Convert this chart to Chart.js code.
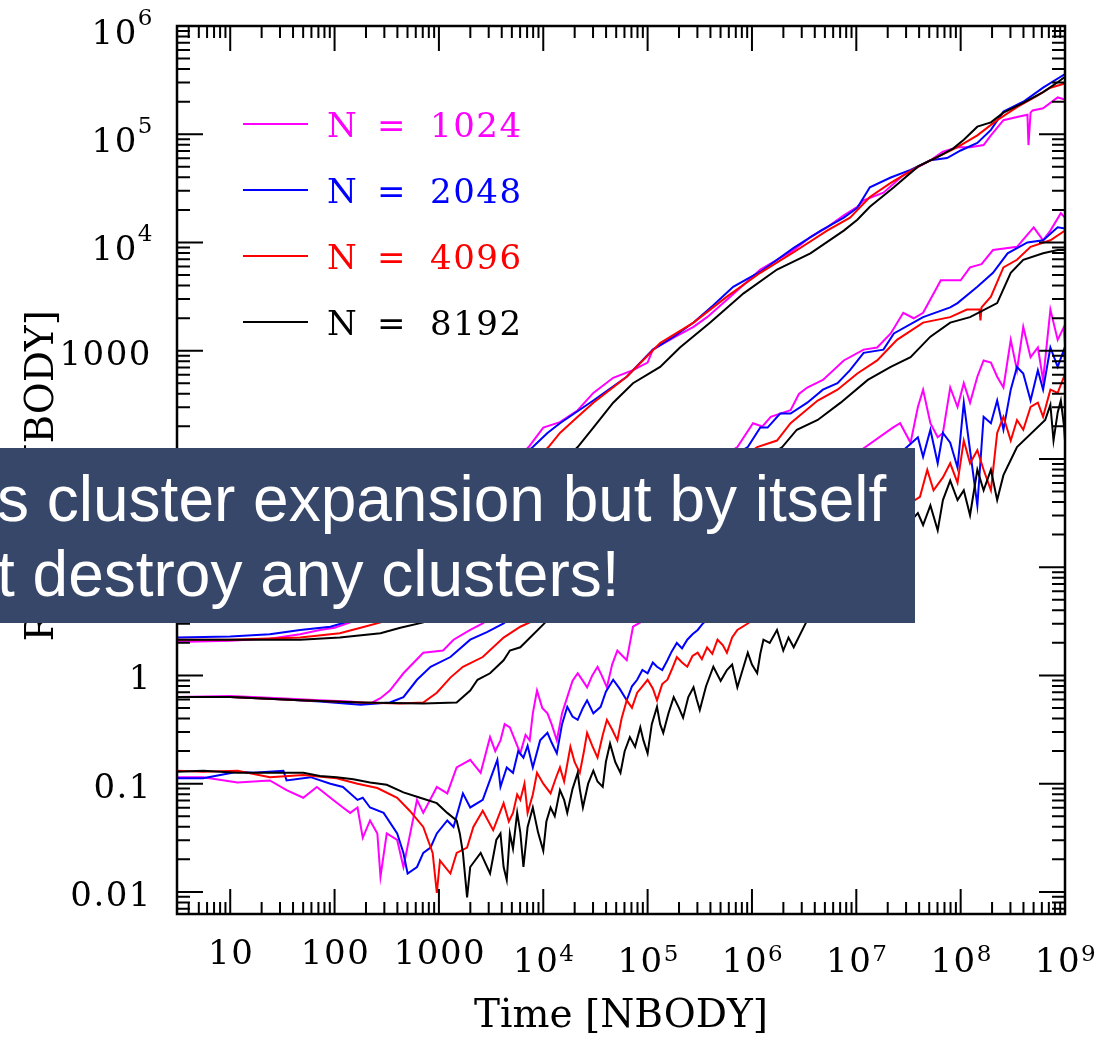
<!DOCTYPE html>
<html>
<head>
<meta charset="utf-8">
<title>Radius vs time</title>
<script src="https://cdn.jsdelivr.net/npm/chart.js@4.4.1/dist/chart.umd.min.js"></script>
<style>
  html, body { margin: 0; padding: 0; background: #fff; }
  #wrap { position: relative; width: 1107px; height: 1037px; overflow: hidden; }
  #note {
    position: absolute; left: 0; top: 448px; width: 915px; height: 175px;
    background: #37476a; color: #fff; overflow: hidden; white-space: nowrap;
    font-family: "Liberation Sans", Arial, sans-serif; font-size: 64px; line-height: 75px;
  }
  #note div { position: relative; left: -3px; }
</style>
</head>
<body>
<div id="wrap">
  <canvas id="chart" width="1107" height="1037"></canvas>
  <div id="note">
    <div style="padding-top:14px">s cluster expansion but by itself</div>
    <div>t destroy any clusters!</div>
  </div>
</div>
<script>
// runs and their colours
var runs = ['1024', '2048', '4096', '8192'];
var runColors = ['#ff00ff', '#0000ff', '#ff0000', '#000000'];

// axis ranges and tick labels
var xRange = [3.09, 1e9];
var yRange = [0.00625, 1e6];
var xTicks = [1e1, 1e2, 1e3, 1e4, 1e5, 1e6, 1e7, 1e8, 1e9];
var xTickLabels = ['10', '100', '1000', '10^4', '10^5', '10^6', '10^7', '10^8', '10^9'];
var yTicks = [1e-2, 1e-1, 1, 1e1, 1e2, 1e3, 1e4, 1e5, 1e6];
var yTickLabels = ['0.01', '0.1', '1', '10', '100', '1000', '10^4', '10^5', '10^6'];

// [log10(time), log10(radius)]
var upper1024 = [[0.49,0.31],[1.0,0.32],[1.38,0.34],[1.67,0.38],[1.86,0.42],[2.0,0.44],[2.15,0.49],[2.5,0.82],[3.0,1.3],[3.5,1.76],[3.86,2.11],[4.0,2.29],[4.16,2.34],[4.33,2.45],[4.48,2.61],[4.67,2.75],[4.86,2.82],[5.0,2.89],[5.05,3.01],[5.25,3.12],[5.44,3.22],[5.57,3.31],[5.76,3.47],[5.92,3.61],[6.08,3.75],[6.24,3.84],[6.4,3.93],[6.56,4.05],[6.72,4.14],[6.88,4.25],[7.01,4.33],[7.07,4.39],[7.26,4.46],[7.45,4.62],[7.71,4.76],[7.83,4.84],[7.97,4.88],[8.09,4.88],[8.22,4.9],[8.29,4.99],[8.41,5.13],[8.54,5.16],[8.64,5.18],[8.65,4.9],[8.67,5.2],[8.69,5.22],[8.79,5.24],[8.93,5.34],[9.0,5.32]];
var upper2048 = [[0.49,0.35],[1.0,0.36],[1.38,0.38],[1.67,0.42],[1.96,0.45],[2.1,0.49],[2.5,0.86],[3.0,1.35],[3.5,1.8],[3.9,2.11],[4.04,2.24],[4.16,2.33],[4.48,2.54],[4.8,2.76],[5.05,3.01],[5.25,3.13],[5.44,3.26],[5.63,3.42],[5.82,3.59],[6.08,3.73],[6.4,3.95],[6.66,4.11],[6.88,4.23],[7.01,4.32],[7.13,4.51],[7.33,4.6],[7.52,4.67],[7.71,4.76],[7.87,4.78],[8.0,4.85],[8.16,4.92],[8.29,5.04],[8.41,5.21],[8.6,5.3],[8.79,5.43],[8.99,5.55],[9.0,5.55]];
var upper4096 = [[0.49,0.33],[1.0,0.33],[1.67,0.35],[2.05,0.39],[2.25,0.44],[2.44,0.49],[3.0,1.08],[3.5,1.6],[4.05,2.11],[4.16,2.24],[4.33,2.39],[4.48,2.52],[4.8,2.76],[5.12,3.07],[5.44,3.26],[5.76,3.5],[6.08,3.72],[6.4,3.91],[6.72,4.11],[6.94,4.23],[7.13,4.42],[7.33,4.55],[7.59,4.7],[7.78,4.79],[7.97,4.88],[8.16,4.99],[8.35,5.13],[8.54,5.25],[8.74,5.36],[8.86,5.43],[9.0,5.47]];
var upper8192 = [[0.49,0.33],[1.0,0.33],[1.67,0.33],[2.05,0.35],[2.44,0.39],[2.63,0.44],[2.85,0.49],[3.3,1.0],[3.7,1.5],[4.0,1.8],[4.33,2.11],[4.48,2.29],[4.67,2.52],[4.86,2.7],[5.12,2.85],[5.31,3.03],[5.6,3.26],[5.92,3.53],[6.24,3.75],[6.56,3.9],[6.88,4.11],[7.01,4.21],[7.13,4.33],[7.36,4.51],[7.59,4.7],[7.78,4.79],[7.93,4.87],[8.03,4.95],[8.16,5.07],[8.29,5.11],[8.41,5.2],[8.6,5.29],[8.79,5.39],[8.93,5.48],[9.0,5.53]];

var middle1024 = [[0.49,-0.2],[1.0,-0.19],[1.48,-0.21],[1.86,-0.23],[2.15,-0.24],[2.34,-0.26],[2.44,-0.21],[2.53,-0.14],[2.66,0.02],[2.85,0.21],[3.04,0.23],[3.14,0.33],[3.3,0.42],[3.42,0.48],[4.0,0.9],[4.6,1.35],[5.2,1.75],[5.6,1.95],[5.86,2.11],[6.01,2.33],[6.1,2.3],[6.18,2.39],[6.37,2.45],[6.45,2.6],[6.53,2.66],[6.68,2.73],[6.88,2.91],[7.07,3.01],[7.2,3.03],[7.33,3.16],[7.45,3.35],[7.55,3.3],[7.64,3.35],[7.81,3.65],[8.0,3.65],[8.09,3.77],[8.2,3.8],[8.31,3.93],[8.54,3.96],[8.7,4.14],[8.79,4.02],[8.86,4.11],[8.96,4.27],[9.0,4.23]];
var middle2048 = [[0.49,-0.2],[1.0,-0.2],[1.48,-0.22],[1.86,-0.24],[2.25,-0.27],[2.53,-0.25],[2.66,-0.2],[2.79,-0.04],[2.92,0.08],[3.11,0.17],[3.3,0.33],[3.46,0.4],[3.62,0.48],[4.2,0.95],[4.8,1.4],[5.4,1.8],[5.96,2.11],[6.08,2.29],[6.15,2.29],[6.27,2.42],[6.37,2.42],[6.53,2.52],[6.68,2.64],[6.82,2.7],[6.94,2.82],[7.07,2.98],[7.26,3.01],[7.36,3.16],[7.64,3.31],[7.9,3.4],[7.97,3.44],[8.16,3.59],[8.31,3.72],[8.45,3.9],[8.64,4.0],[8.79,4.02],[8.93,4.14],[9.0,4.13]];
var middle4096 = [[0.49,-0.2],[1.0,-0.2],[1.67,-0.23],[2.25,-0.25],[2.63,-0.26],[2.85,-0.25],[2.98,-0.16],[3.11,-0.02],[3.23,0.08],[3.42,0.17],[3.62,0.35],[3.78,0.45],[3.87,0.49],[4.4,0.95],[5.0,1.4],[5.6,1.8],[6.05,2.11],[6.24,2.17],[6.37,2.33],[6.63,2.54],[6.82,2.64],[7.01,2.79],[7.2,2.91],[7.39,3.1],[7.64,3.26],[7.9,3.31],[8.06,3.38],[8.18,3.38],[8.19,3.28],[8.2,3.4],[8.29,3.5],[8.41,3.77],[8.54,3.84],[8.67,3.96],[8.86,4.02],[9.0,4.11]];
var middle8192 = [[0.49,-0.2],[1.0,-0.2],[1.67,-0.23],[2.25,-0.25],[2.85,-0.26],[3.17,-0.25],[3.3,-0.14],[3.37,-0.04],[3.49,0.02],[3.62,0.14],[3.68,0.23],[3.78,0.26],[4.02,0.49],[4.6,0.95],[5.2,1.4],[5.8,1.8],[6.29,2.11],[6.43,2.27],[6.63,2.36],[6.85,2.52],[7.11,2.73],[7.33,2.85],[7.52,2.94],[7.71,3.13],[7.9,3.26],[8.09,3.31],[8.35,3.44],[8.48,3.72],[8.6,3.84],[8.79,3.9],[8.93,3.93],[9.0,3.93]];

var lower1024 = [[0.49,-0.94],[0.74,-0.94],[1.07,-0.99],[1.38,-0.97],[1.54,-1.06],[1.7,-1.13],[1.83,-1.03],[1.96,-1.13],[2.08,-1.22],[2.15,-1.27],[2.22,-1.22],[2.27,-1.5],[2.34,-1.34],[2.41,-1.46],[2.44,-1.86],[2.5,-1.46],[2.6,-1.52],[2.66,-1.77],[2.79,-1.15],[2.85,-1.27],[2.98,-1.03],[3.08,-1.09],[3.17,-0.85],[3.3,-0.78],[3.4,-0.9],[3.49,-0.57],[3.54,-0.7],[3.59,-0.6],[3.63,-0.45],[3.68,-0.48],[3.73,-0.6],[3.78,-0.72],[3.83,-0.55],[3.87,-0.6],[3.9,-0.35],[3.94,-0.14],[3.99,-0.3],[4.04,-0.35],[4.08,-0.45],[4.13,-0.6],[4.18,-0.35],[4.23,-0.2],[4.28,-0.05],[4.33,0.02],[4.38,-0.05],[4.42,-0.11],[4.47,0.0],[4.52,0.08],[4.56,0.0],[4.61,-0.11],[4.66,0.1],[4.71,0.23],[4.76,0.18],[4.8,0.14],[4.86,0.45],[4.93,0.49],[5.2,0.75],[5.5,0.95],[5.8,1.2],[6.1,1.4],[6.4,1.65],[6.7,1.8],[7.0,2.05],[7.35,2.29],[7.42,2.33],[7.52,2.15],[7.59,2.48],[7.64,2.64],[7.71,2.33],[7.78,2.2],[7.83,2.24],[7.9,2.66],[7.97,2.48],[8.03,2.7],[8.09,2.52],[8.16,2.76],[8.22,2.91],[8.29,2.89],[8.35,2.76],[8.41,2.66],[8.48,3.1],[8.54,2.82],[8.6,3.22],[8.67,2.94],[8.74,3.03],[8.79,2.73],[8.86,3.38],[8.93,3.1],[8.99,3.22],[9.0,3.05]];
var lower2048 = [[0.49,-0.95],[0.74,-0.95],[1.07,-0.89],[1.22,-0.9],[1.51,-0.88],[1.54,-0.97],[1.77,-0.94],[1.96,-1.0],[2.08,-1.03],[2.22,-1.15],[2.27,-1.13],[2.34,-1.22],[2.47,-1.27],[2.6,-1.46],[2.66,-1.64],[2.7,-1.83],[2.79,-1.77],[2.85,-1.64],[2.92,-1.59],[2.98,-1.46],[3.08,-1.34],[3.14,-1.4],[3.23,-1.09],[3.3,-1.22],[3.42,-1.15],[3.56,-0.78],[3.59,-1.03],[3.65,-0.85],[3.71,-0.9],[3.76,-0.7],[3.81,-0.76],[3.85,-0.65],[3.9,-0.85],[3.97,-0.6],[4.04,-0.53],[4.08,-0.62],[4.13,-0.72],[4.18,-0.45],[4.23,-0.29],[4.28,-0.38],[4.33,-0.41],[4.38,-0.3],[4.42,-0.23],[4.48,-0.35],[4.55,-0.29],[4.6,-0.15],[4.67,-0.04],[4.73,-0.12],[4.8,-0.23],[4.85,-0.1],[4.9,-0.04],[4.95,0.05],[5.0,0.02],[5.05,0.12],[5.09,0.08],[5.14,0.05],[5.19,0.14],[5.23,0.22],[5.28,0.3],[5.33,0.25],[5.38,0.33],[5.43,0.38],[5.48,0.42],[5.53,0.48],[5.8,0.72],[6.1,0.95],[6.4,1.25],[6.7,1.45],[7.0,1.75],[7.3,1.95],[7.59,2.2],[7.64,2.02],[7.71,2.27],[7.78,1.96],[7.83,2.24],[7.9,2.15],[7.97,1.92],[8.03,2.52],[8.09,2.08],[8.16,1.57],[8.22,2.39],[8.29,2.33],[8.35,2.54],[8.41,2.27],[8.48,2.64],[8.54,2.85],[8.6,2.79],[8.67,2.54],[8.74,2.82],[8.79,2.64],[8.86,3.03],[8.93,2.85],[8.99,3.01],[9.0,2.91]];
var lower4096 = [[0.49,-0.88],[0.74,-0.89],[1.07,-0.88],[1.38,-0.94],[1.7,-0.92],[2.02,-0.95],[2.22,-1.0],[2.41,-1.04],[2.6,-1.13],[2.72,-1.25],[2.85,-1.4],[2.94,-1.64],[2.98,-2.01],[3.01,-1.71],[3.11,-1.83],[3.17,-1.64],[3.27,-1.59],[3.33,-1.4],[3.42,-1.25],[3.52,-1.43],[3.62,-1.18],[3.67,-1.35],[3.71,-1.27],[3.75,-1.1],[3.78,-1.15],[3.82,-1.0],[3.85,-1.27],[3.9,-1.1],[3.94,-0.9],[4.0,-1.0],[4.07,-1.09],[4.12,-0.95],[4.16,-0.85],[4.2,-0.98],[4.26,-0.66],[4.3,-0.8],[4.35,-0.9],[4.39,-0.7],[4.42,-0.53],[4.47,-0.65],[4.52,-0.76],[4.57,-0.55],[4.61,-0.41],[4.66,-0.5],[4.71,-0.6],[4.75,-0.4],[4.8,-0.23],[4.85,-0.3],[4.9,-0.16],[4.95,-0.1],[5.0,-0.04],[5.05,-0.12],[5.09,-0.23],[5.14,-0.08],[5.19,-0.04],[5.23,0.05],[5.28,0.17],[5.33,0.12],[5.38,0.08],[5.43,0.18],[5.48,0.21],[5.52,0.15],[5.57,0.26],[5.62,0.2],[5.67,0.33],[5.72,0.28],[5.76,0.21],[5.81,0.35],[5.86,0.42],[5.96,0.48],[6.2,0.65],[6.45,0.85],[6.7,1.0],[6.95,1.2],[7.2,1.35],[7.45,1.55],[7.61,1.65],[7.68,1.9],[7.74,1.71],[7.83,1.83],[7.9,1.96],[7.97,1.78],[8.03,2.17],[8.09,1.96],[8.16,2.08],[8.22,1.9],[8.29,1.71],[8.35,2.24],[8.41,2.39],[8.48,2.17],[8.54,2.36],[8.6,2.27],[8.67,2.48],[8.74,2.52],[8.79,2.39],[8.86,2.64],[8.93,2.61],[8.99,2.76],[9.0,2.73]];
var lower8192 = [[0.49,-0.89],[0.74,-0.88],[1.07,-0.9],[1.38,-0.9],[1.7,-0.9],[1.86,-0.93],[2.02,-0.94],[2.18,-0.96],[2.34,-0.99],[2.5,-1.01],[2.66,-1.08],[2.82,-1.13],[2.98,-1.18],[3.08,-1.27],[3.17,-1.34],[3.2,-1.46],[3.23,-1.64],[3.27,-2.05],[3.3,-1.77],[3.4,-1.64],[3.49,-1.83],[3.55,-1.52],[3.59,-1.46],[3.62,-1.77],[3.65,-1.89],[3.68,-1.46],[3.71,-1.6],[3.75,-1.27],[3.78,-1.45],[3.81,-1.77],[3.85,-1.4],[3.9,-1.22],[3.95,-1.45],[4.0,-1.62],[4.03,-1.35],[4.07,-1.22],[4.11,-1.3],[4.16,-1.06],[4.2,-1.15],[4.23,-1.27],[4.28,-1.05],[4.33,-0.9],[4.35,-1.05],[4.38,-1.22],[4.43,-1.0],[4.48,-0.88],[4.52,-0.98],[4.57,-1.03],[4.6,-0.8],[4.64,-0.63],[4.69,-0.8],[4.74,-0.9],[4.78,-0.7],[4.83,-0.57],[4.88,-0.66],[4.93,-0.48],[4.96,-0.6],[5.0,-0.72],[5.04,-0.45],[5.09,-0.29],[5.12,-0.45],[5.15,-0.53],[5.2,-0.35],[5.25,-0.2],[5.3,-0.3],[5.34,-0.39],[5.39,-0.2],[5.44,-0.11],[5.47,-0.22],[5.5,-0.32],[5.56,-0.1],[5.63,0.08],[5.7,-0.05],[5.76,0.05],[5.81,0.1],[5.86,-0.11],[5.91,0.05],[5.96,0.21],[6.0,0.1],[6.05,0.02],[6.08,0.2],[6.11,0.33],[6.17,0.3],[6.24,0.42],[6.3,0.23],[6.35,0.35],[6.4,0.26],[6.55,0.55],[6.7,0.75],[6.85,0.7],[7.0,0.95],[7.15,1.05],[7.3,1.2],[7.45,1.35],[7.59,1.5],[7.64,1.39],[7.71,1.57],[7.78,1.34],[7.83,1.62],[7.9,1.8],[7.97,1.62],[8.03,1.71],[8.09,1.48],[8.16,1.9],[8.22,1.71],[8.29,1.9],[8.35,1.62],[8.41,1.85],[8.48,1.99],[8.54,2.11],[8.81,2.36],[8.86,2.5],[8.89,2.17],[8.93,2.43],[8.96,2.54],[8.99,2.31],[9.0,2.17]];

var groups = [
    [upper1024, upper2048, upper4096, upper8192],
    [middle1024, middle2048, middle4096, middle8192],
    [lower1024, lower2048, lower4096, lower8192]
];

var datasets = [];
groups.forEach(function (group) {
    group.forEach(function (pts, i) {
        datasets.push({
            label: 'N = ' + runs[i],
            data: pts.map(function (p) { return { x: Math.pow(10, p[0]), y: Math.pow(10, p[1]) }; }),
            borderColor: runColors[i],
            borderWidth: 2,
            pointRadius: 0,
            fill: false,
            order: 3 - i  // larger N drawn on top
        });
    });
});

var serif = '"DejaVu Serif", "Liberation Serif", serif';

// minor/major positions for a log axis
function logTicks(min, max) {
    var out = [];
    for (var e = Math.floor(Math.log10(min)); e <= Math.ceil(Math.log10(max)); e++) {
        for (var m = 1; m <= 9; m++) {
            var v = m * Math.pow(10, e);
            if (v >= min * 0.999 && v <= max * 1.001) out.push({ v: v, major: m === 1 });
        }
    }
    return out;
}

// tick label, "10^n" gets a raised exponent
function drawLabel(ctx, label, x, y, axis) {
    ctx.font = '34px ' + serif;
    if (label.indexOf('^') < 0) {
        if (axis === 'x') {
            ctx.textAlign = 'center';
            ctx.fillText(label, x, y + 50);
        } else {
            ctx.textAlign = 'right';
            ctx.fillText(label, x + 2, y + 14);
        }
        return;
    }
    var parts = label.split('^');
    var wb = ctx.measureText(parts[0]).width;
    ctx.font = '23px ' + serif;
    var we = ctx.measureText(parts[1]).width;
    var left = axis === 'x' ? x - (wb + we) / 2 : x + 4 - (wb + we);
    var base = axis === 'x' ? y + 58 : y + 18;
    var sup = axis === 'x' ? y + 47 : y - 1;
    ctx.textAlign = 'left';
    ctx.font = '34px ' + serif;
    ctx.fillText(parts[0], left, base);
    ctx.font = '23px ' + serif;
    ctx.fillText(parts[1], left + wb, sup);
}

var frame = {
    id: 'frame',
    afterDatasetsDraw: function (chart) {
        var ctx = chart.ctx, a = chart.chartArea;
        var x = chart.scales.x, y = chart.scales.y;
        ctx.save();
        ctx.strokeStyle = '#000';
        ctx.fillStyle = '#000';

        // inward ticks on all four sides
        ctx.lineWidth = 2;
        ctx.beginPath();
        logTicks(xRange[0], xRange[1]).forEach(function (t) {
            var px = x.getPixelForValue(t.v);
            var len = t.major ? 25 : 12;
            ctx.moveTo(px, a.bottom); ctx.lineTo(px, a.bottom - len);
            ctx.moveTo(px, a.top); ctx.lineTo(px, a.top + len);
        });
        logTicks(yRange[0], yRange[1]).forEach(function (t) {
            var py = y.getPixelForValue(t.v);
            var len = t.major ? 26 : 13;
            ctx.moveTo(a.left, py); ctx.lineTo(a.left + len, py);
            ctx.moveTo(a.right, py); ctx.lineTo(a.right - len, py);
        });
        ctx.stroke();
        ctx.lineWidth = 2.5;
        ctx.strokeRect(a.left, a.top, a.right - a.left, a.bottom - a.top);

        // tick labels
        ctx.letterSpacing = '1.5px';
        ctx.textBaseline = 'alphabetic';
        xTicks.forEach(function (v, i) {
            drawLabel(ctx, xTickLabels[i], x.getPixelForValue(v) + 1, a.bottom, 'x');
        });
        yTicks.forEach(function (v, i) {
            drawLabel(ctx, yTickLabels[i], a.left - 27, y.getPixelForValue(v), 'y');
        });

        // legend
        runs.forEach(function (n, i) {
            var ly = a.top + 98 + i * 66;
            ctx.strokeStyle = runColors[i];
            ctx.fillStyle = runColors[i];
            ctx.lineWidth = 1.8;
            ctx.beginPath();
            ctx.moveTo(a.left + 66, ly);
            ctx.lineTo(a.left + 131, ly);
            ctx.stroke();
            ctx.font = '34px ' + serif;
            ctx.textAlign = 'left';
            ctx.fillText('N', a.left + 150, ly + 13);
            ctx.fillText('=', a.left + 200, ly + 13);
            ctx.fillText(n, a.left + 253, ly + 13);
        });

        // axis titles
        ctx.letterSpacing = '0px';
        ctx.fillStyle = '#000';
        ctx.font = '39px ' + serif;
        ctx.textAlign = 'center';
        ctx.fillText('Time [NBODY]', (a.left + a.right) / 2, 1027);
        ctx.translate(53, 310);
        ctx.rotate(-Math.PI / 2);
        ctx.textAlign = 'right';
        ctx.fillText('Radius [NBODY]', 0, 0);
        ctx.restore();
    }
};

new Chart(document.getElementById('chart'), {
    type: 'line',
    data: { datasets: datasets },
    options: {
        responsive: false,
        animation: false,
        layout: { padding: { left: 177, top: 26, right: 42, bottom: 123 } },
        plugins: { legend: { display: false }, tooltip: { enabled: false } },
        elements: { line: { tension: 0 } },
        scales: {
            x: { type: 'logarithmic', min: xRange[0], max: xRange[1], display: false },
            y: { type: 'logarithmic', min: yRange[0], max: yRange[1], display: false }
        }
    },
    plugins: [frame]
});
</script>
</body>
</html>
